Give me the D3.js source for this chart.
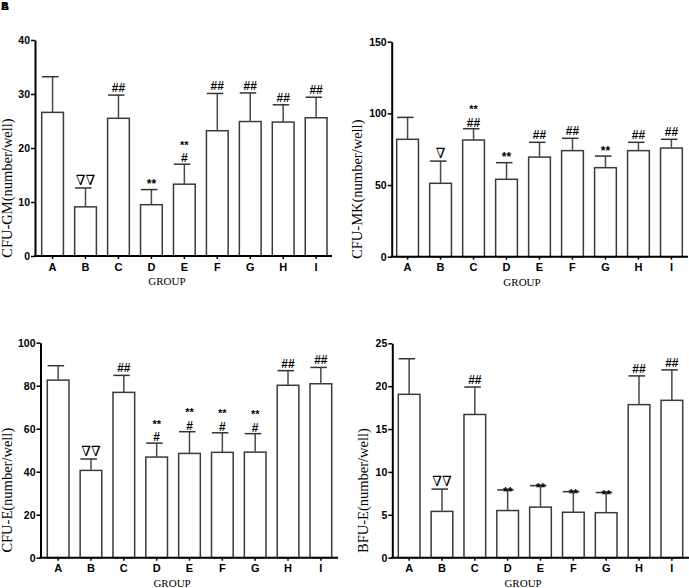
<!DOCTYPE html>
<html><head><meta charset="utf-8">
<script src="https://cdn.jsdelivr.net/npm/d3@7"></script>
<style>body{margin:0;background:#fff}svg{display:block}</style></head>
<body>
<svg id="c" width="689" height="588"></svg>
<script>
const groups = ["A","B","C","D","E","F","G","H","I"];

const gmMean = [26.6, 9.1, 25.5, 9.5, 13.3, 23.2, 24.9, 24.8, 25.6];
const gmSD   = [6.6, 3.5, 4.3, 2.8, 3.7, 6.9, 5.3, 3.2, 3.8];
const gmMark = ["", "∇∇", "##", "**", "**|#", "##", "##", "##", "##"];

const mkMean = [81.9, 51.2, 81.4, 54.0, 69.5, 74.0, 62.1, 74.0, 75.8];
const mkSD   = [15.3, 15.5, 7.9, 11.6, 10.3, 8.6, 8.1, 5.8, 6.1];
const mkMark = ["", "∇", "**|##", "**", "##", "##", "**", "##", "##"];

const eMean = [82.6, 40.6, 76.9, 46.8, 48.5, 49.0, 49.1, 80.2, 80.9];
const eSD   = [6.7, 5.3, 7.9, 6.5, 10.1, 9.1, 8.6, 6.8, 7.6];
const eMark = ["", "∇∇", "##", "**|#", "**|#", "**|#", "**|#", "##", "##"];

const bfuMean = [19.05, 5.4, 16.7, 5.5, 5.9, 5.3, 5.25, 17.85, 18.35];
const bfuSD   = [4.15, 2.6, 3.2, 2.4, 2.5, 2.4, 2.35, 3.35, 3.55];
const bfuMark = ["", "∇∇", "##", "**", "**", "**", "**", "##", "##"];

const gmTicks = [0, 10, 20, 30, 40];
const mkTicks = [0, 50, 100, 150];
const eTicks = [0, 20, 40, 60, 80, 100];
const bfuTicks = [0, 5, 10, 15, 20, 25];

const panels = [
  {title:"CFU-GM(number/well)", mean:gmMean, sd:gmSD, mark:gmMark, ticks:gmTicks,
   axX:35, axEnd:332, bandL:41.7, bandR:327, y0:256, y1:40, titleX:12, starOff:-1.5},
  {title:"CFU-MK(number/well)", mean:mkMean, sd:mkSD, mark:mkMark, ticks:mkTicks,
   axX:391.7, axEnd:688, bandL:396.7, bandR:682.3, y0:256.7, y1:41.7, titleX:362, starOff:-1.5},
  {title:"CFU-E(number/well)", mean:eMean, sd:eSD, mark:eMark, ticks:eTicks,
   axX:40.5, axEnd:338, bandL:47.3, bandR:331.7, y0:557.7, y1:342.7, titleX:12, starOff:-1.5},
  {title:"BFU-E(number/well)", mean:bfuMean, sd:bfuSD, mark:bfuMark, ticks:bfuTicks,
   axX:392.3, axEnd:689, bandL:398.3, bandR:682.7, y0:557.7, y1:343.3, titleX:368, starOff:6.5}
];

const svg = d3.select("#c");
const sans = "'Liberation Sans', Arial, sans-serif";
const serif = "'Liberation Serif', 'Times New Roman', 'DejaVu Serif', serif";

// panel letters (overlapped in the reference)
const pl = svg.append("text").attr("x",1).attr("y",10).attr("font-family",sans).attr("font-weight","bold")
  .attr("font-size",11);
pl.append("tspan").attr("x",1).text("A");
pl.append("tspan").attr("x",1).text("B");

panels.forEach(p => {
  const x = d3.scaleBand().domain(groups).range([p.bandL, p.bandR]).paddingInner(0.34).paddingOuter(0);
  const y = d3.scaleLinear().domain([0, d3.max(p.ticks)]).range([p.y0, p.y1]);
  const g = svg.append("g");
  const bw = x.bandwidth();
  const data = groups.map((k,i)=>({k, m:p.mean[i], s:p.sd[i], a:p.mark[i]}));

  // bars
  g.selectAll("rect.bar").data(data).join("rect")
    .attr("x", d=>x(d.k)).attr("y", d=>y(d.m))
    .attr("width", bw).attr("height", d=>y(0)-y(d.m))
    .attr("fill","#fff").attr("stroke","#3a3a3a").attr("stroke-width",1.5);

  // error bars (upper only)
  g.selectAll("line.stem").data(data).join("line")
    .attr("x1", d=>x(d.k)+bw/2).attr("x2", d=>x(d.k)+bw/2)
    .attr("y1", d=>y(d.m)).attr("y2", d=>y(d.m+d.s))
    .attr("stroke","#4a4a4a").attr("stroke-width",1.5);
  g.selectAll("line.cap").data(data).join("line")
    .attr("x1", d=>x(d.k)+bw/2-10.5).attr("x2", d=>x(d.k)+bw/2+6)
    .attr("y1", d=>y(d.m+d.s)).attr("y2", d=>y(d.m+d.s))
    .attr("stroke","#333").attr("stroke-width",1.5);

  // annotations
  data.forEach(d => {
    if (!d.a) return;
    const lines = d.a.split("|");
    const top = y(d.m+d.s);
    const cx = x(d.k)+bw/2;
    if (lines.length === 1) {
      const t = lines[0];
      const isNab = t.indexOf("∇") >= 0;
      g.append("text").attr("x", cx).attr("y", t === "**" ? top + p.starOff : top - 3)
        .attr("text-anchor","middle")
        .attr("font-family", isNab ? serif : sans)
        .attr("font-size", isNab ? 14 : 12)
        .attr("font-weight", isNab ? "normal" : "bold")
        .text(t);
    } else {
      // stacked: "**" above "#"/"##"
      const b = top - 2;
      g.append("text").attr("x", cx).attr("y", b).attr("text-anchor","middle")
        .attr("font-family", sans).attr("font-size", 12).attr("font-weight","bold").text(lines[1]);
      g.append("text").attr("x", cx).attr("y", b - 13.5).attr("text-anchor","middle")
        .attr("font-family", sans).attr("font-size", 11).attr("font-weight","bold").text(lines[0]);
    }
  });

  // y axis
  const ya = g.append("g").attr("transform", `translate(${p.axX},0)`)
    .call(d3.axisLeft(y).tickValues(p.ticks).tickSize(4).tickPadding(1).tickSizeOuter(0));
  ya.select(".domain").attr("stroke","#000").attr("stroke-width",2);
  ya.selectAll(".tick line").attr("stroke","#000").attr("stroke-width",1.5);
  ya.selectAll(".tick text").attr("font-family",sans).attr("font-weight","bold")
    .attr("font-size",10.5).attr("fill","#000");

  // x axis
  const xa = g.append("g").attr("transform", `translate(0,${p.y0})`)
    .call(d3.axisBottom(x).tickSize(3).tickPadding(4).tickSizeOuter(0));
  xa.select(".domain").remove();
  g.append("line").attr("x1", p.axX-1).attr("x2", p.axEnd).attr("y1", p.y0).attr("y2", p.y0)
    .attr("stroke","#000").attr("stroke-width",2);
  xa.selectAll(".tick line").attr("stroke","#000").attr("stroke-width",1.5);
  xa.selectAll(".tick text").attr("font-family",sans).attr("font-weight","bold")
    .attr("font-size",11).attr("fill","#000");

  // axis titles
  g.append("text").attr("x", (x("D")+x("E"))/2 + bw/2 - 1).attr("y", p.y0 + 29)
    .attr("text-anchor","middle").attr("font-family",serif).attr("font-size",11).text("GROUP");
  const cy = (p.y0 + p.y1)/2 + 40;
  g.append("text").attr("transform", `translate(${p.titleX},${cy}) rotate(-90)`)
    .attr("text-anchor","middle").attr("font-family",serif).attr("font-size",14.5).text(p.title);
});
</script>
</body></html>
